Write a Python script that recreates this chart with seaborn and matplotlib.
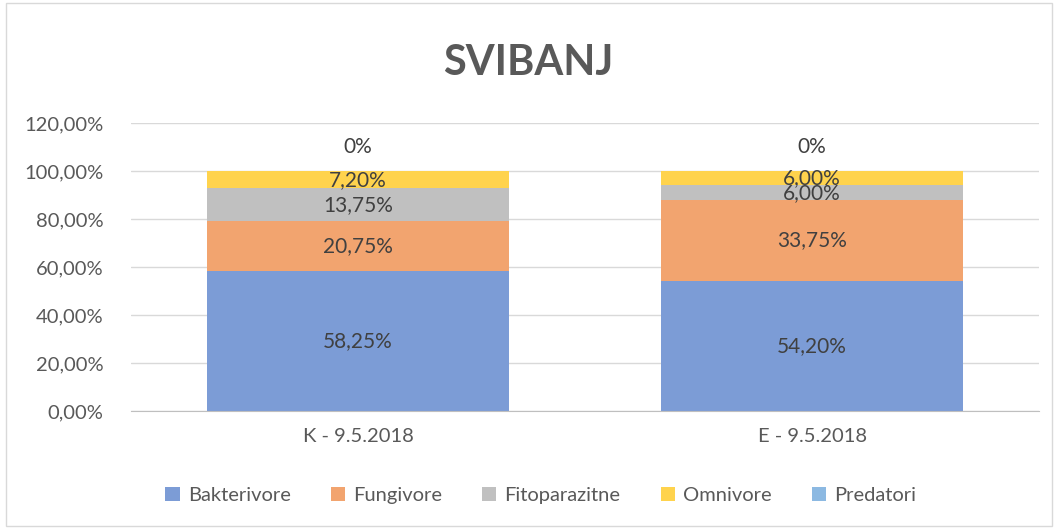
import numpy as np
import pandas as pd
import matplotlib
matplotlib.use("Agg")
import matplotlib.pyplot as plt
from matplotlib.patches import Patch, Rectangle
import seaborn as sns

# ---------------- data ----------------
dates = ['K - 9.5.2018', 'E - 9.5.2018']
groups = ['Bakterivore', 'Fungivore', 'Fitoparazitne', 'Omnivore', 'Predatori']
bakterivore = [58.25, 54.20]
fungivore = [20.75, 33.75]
fitoparazitne = [13.75, 6.00]
omnivore = [7.20, 6.00]
predatori = [0.0, 0.0]
colors = ['#7C9CD6', '#F2A46F', '#C0C0C0', '#FFD34D', '#8CB9E2']

series = [bakterivore, fungivore, fitoparazitne, omnivore, predatori]

def pct(v):
    if v == 0:
        return '0%'
    return '{:.2f}%'.format(v).replace('.', ',')

# ---------------- plot ----------------
sns.set_style('white')
plt.rcParams['font.family'] = ['Lato', 'DejaVu Sans']

fig = plt.figure(figsize=(10.56, 5.28), dpi=100)
ax = fig.add_axes([0.124, 0.2216, 0.86, 0.5455])

vals = np.array(series)
cum = np.cumsum(vals, axis=0)
# draw cumulative totals from top layer down so lower layers cover upper ones
for i in range(len(groups) - 1, -1, -1):
    df = pd.DataFrame({'date': dates, 'val': cum[i]})
    if vals[i].sum() == 0:
        continue
    sns.barplot(data=df, x='date', y='val', color=colors[i], width=0.667,
                saturation=1, ax=ax, zorder=2, edgecolor='none', linewidth=0)

for i, g in enumerate(groups):
    for j in range(len(dates)):
        v = vals[i, j]
        bottom = cum[i, j] - v
        if v == 0:
            ax.text(j, cum[i, j] + 10, pct(v), ha='center', va='center',
                    fontsize=15, color='#404040')
        else:
            ax.text(j, bottom + v / 2, pct(v), ha='center', va='center',
                    fontsize=15, color='#404040', zorder=3)

ax.set_ylim(0, 120)
ax.set_xlim(-0.5, 1.5)
ax.set_yticks(np.arange(0, 121, 20))
ax.set_yticklabels(['{:.2f}%'.format(t).replace('.', ',') for t in np.arange(0, 121, 20)])
ax.set_xlabel('')
ax.set_ylabel('')
ax.grid(axis='y', color='#D9D9D9', lw=1, zorder=0)
ax.set_axisbelow(True)
for s in ['top', 'right', 'left']:
    ax.spines[s].set_visible(False)
ax.spines['bottom'].set_color('#BFBFBF')
ax.tick_params(axis='both', length=0, labelsize=14.5, labelcolor='#595959')
ax.tick_params(axis='x', pad=12)
ax.tick_params(axis='y', pad=20)

fig.text(0.5, 0.88, 'SVIBANJ', ha='center', va='center', fontsize=30,
         fontweight='bold', color='#595959')

handles = [Patch(facecolor=c, edgecolor='none') for c in colors]
fig.legend(handles, groups, loc='center', bbox_to_anchor=(0.512, 0.062), ncol=5,
           frameon=False, fontsize=14.5, handlelength=0.7, handleheight=0.7,
           handletextpad=0.4, columnspacing=2.0, labelcolor='#595959')

fig.patches.append(Rectangle((0.006, 0.004), 0.99, 0.99, transform=fig.transFigure,
                             fill=False, edgecolor='#D9D9D9', lw=1))

plt.savefig('out.png', dpi=100)
